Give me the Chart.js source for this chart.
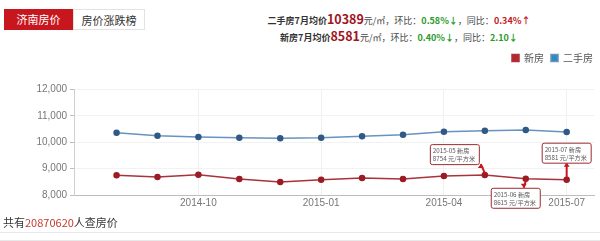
<!DOCTYPE html>
<html>
<head>
<meta charset="utf-8">
<script src="https://cdn.jsdelivr.net/npm/chart.js@4.4.1/dist/chart.umd.min.js"></script>
<style>
  body { margin: 0; width: 600px; height: 241px; position: relative; overflow: hidden; background: #fff;
         font-family: "Noto Sans CJK SC", "Liberation Sans", sans-serif; }
  .tabs { position: absolute; left: 4px; top: 9px; height: 21px; display: flex; }
  .tab { height: 21px; line-height: 21px; font-size: 11px; text-align: center; box-sizing: border-box; }
  .tab.on { background: #c8161e; color: #fff; width: 69px; }
  .tab.off { background: #fff; color: #333; border: 1px solid #e2e2e2; width: 72px; }
  .summary { position: absolute; left: 249px; width: 300px; text-align: center; font-size: 9px; line-height: 18px;
             color: #444; white-space: nowrap; }
  .summary .lbl { font-weight: bold; color: #333; }
  .summary .big { font-size: 12.5px; font-weight: bold; color: #a01423; }
  .summary .dn { color: #2b9b2b; font-weight: bold; }
  .summary .up { color: #c8161e; font-weight: bold; }
  #line1 { top: 10px; }
  #line2 { top: 27px; }
  .chart-box { position: absolute; left: 0; top: 40px; width: 600px; height: 176px; }
  .footer { position: absolute; left: 3px; top: 214px; font-size: 11px; color: #333; }
  .footer span { color: #c0392b; }
  .rule1 { position: absolute; left: 0; right: 0; top: 232px; height: 1px; background: #e8e8e8; }
  .rule2 { position: absolute; left: 0; right: 0; top: 240px; height: 1px; background: #e8e8e8; }
</style>
</head>
<body>
<div class="tabs"><div class="tab on">济南房价</div><div class="tab off">房价涨跌榜</div></div>
<div class="summary" id="line1"><span class="lbl">二手房7月均价</span><span class="big">10389</span>元/㎡，环比：<span class="dn">0.58%↓</span>，同比：<span class="up">0.34%↑</span></div>
<div class="summary" id="line2"><span class="lbl">新房7月均价</span><span class="big">8581</span>元/㎡，环比：<span class="dn">0.40%↓</span>，同比：<span class="dn">2.10↓</span></div>
<div class="chart-box"><canvas id="price-chart"></canvas></div>
<div class="footer">共有<span>20870620</span>人查房价</div>
<div class="rule1"></div><div class="rule2"></div>
<script>
// Monthly average prices (元/平方米)
var months = ['2014-08', '2014-09', '2014-10', '2014-11', '2014-12', '2015-01',
              '2015-02', '2015-03', '2015-04', '2015-05', '2015-06', '2015-07'];
var newHouse = [8750, 8680, 8770, 8610, 8490, 8580, 8640, 8610, 8720, 8754, 8615, 8581];
var secondHand = [10360, 10250, 10200, 10175, 10150, 10170, 10225, 10285, 10400, 10440, 10460, 10389];
var seriesNames = ['新房', '二手房'];
var xTickMonths = ['2014-10', '2015-01', '2015-04', '2015-07'];
var yTicks = [8000, 9000, 10000, 11000, 12000];
var calloutMonths = ['2015-05', '2015-06', '2015-07'];

// callout box placement relative to its point (style only)
var calloutStyle = [
  { dx: -55, dy: -31, ax: -4 },
  { dx: -35, dy: 9, ax: -2 },
  { dx: -25, dy: -37, ax: 0 }
];

function toPoints(values) {
  return values.map(function(v, i) { return { x: i, y: v }; });
}

var calloutPlugin = {
  id: 'callouts',
  afterDatasetsDraw: function(chart) {
    var ctx = chart.ctx;
    var meta = chart.getDatasetMeta(0);
    ctx.save();
    calloutMonths.forEach(function(m, k) {
      var i = months.indexOf(m);
      var pt = meta.data[i];
      var st = calloutStyle[k];
      var w = 49, h = 20;
      var bx = pt.x + st.dx, by = pt.y + st.dy;
      // arrow between point and box
      var ex = pt.x + st.ax;
      var ey = st.dy < 0 ? by + h : by;
      ctx.strokeStyle = '#c8161e';
      ctx.fillStyle = '#c8161e';
      ctx.lineWidth = 2;
      ctx.beginPath();
      ctx.moveTo(pt.x, pt.y + (st.dy < 0 ? -2 : 2));
      ctx.lineTo(ex, ey);
      ctx.stroke();
      var dir = st.dy < 0 ? 1 : -1;
      ctx.beginPath();
      ctx.moveTo(ex, ey);
      ctx.lineTo(ex - 3, ey + dir * 4);
      ctx.lineTo(ex + 3, ey + dir * 4);
      ctx.closePath();
      ctx.fill();
      // box
      ctx.fillStyle = '#fff';
      ctx.strokeStyle = '#9b2c30';
      ctx.lineWidth = 1;
      ctx.beginPath();
      ctx.roundRect(bx + 0.5, by + 0.5, w, h, 2);
      ctx.fill();
      ctx.stroke();
      ctx.fillStyle = '#555';
      ctx.font = '6.2px "Noto Sans CJK SC", sans-serif';
      ctx.textBaseline = 'middle';
      ctx.textAlign = 'left';
      ctx.fillText(m + ' ' + seriesNames[0], bx + 3, by + 6.5);
      ctx.fillText(newHouse[i] + ' 元/平方米', bx + 3, by + 15);
    });
    ctx.restore();
  }
};

new Chart(document.getElementById('price-chart'), {
  type: 'line',
  data: {
    datasets: [
      {
        label: seriesNames[0],
        data: toPoints(newHouse),
        borderColor: '#a8333a',
        backgroundColor: '#b8272d',
        pointBackgroundColor: '#9b1c24',
        pointBorderColor: '#9b1c24',
        borderWidth: 1.5,
        pointRadius: 2.5,
        tension: 0
      },
      {
        label: seriesNames[1],
        data: toPoints(secondHand),
        borderColor: '#6892bf',
        backgroundColor: '#2d8bbd',
        pointBackgroundColor: '#2f5a86',
        pointBorderColor: '#2f5a86',
        borderWidth: 1.5,
        pointRadius: 2.5,
        tension: 0
      }
    ]
  },
  options: {
    responsive: true,
    maintainAspectRatio: false,
    animation: false,
    layout: { padding: { top: 6, right: 0, left: 0, bottom: 0 } },
    plugins: {
      legend: {
        position: 'top',
        align: 'end',
        weight: 3000,
        labels: {
          boxWidth: 7,
          boxHeight: 7,
          padding: 7,
          color: '#555',
          font: { family: '"Noto Sans CJK SC", sans-serif', size: 10 }
        }
      },
      title: {
        display: true,
        text: ' ',
        font: { size: 10 },
        padding: { top: 0, bottom: 4.5 }
      },
      tooltip: { enabled: false }
    },
    scales: {
      x: {
        type: 'linear',
        min: -1.04,
        max: 11.68,
        afterBuildTicks: function(scale) {
          scale.ticks = xTickMonths.map(function(m) { return { value: months.indexOf(m) }; });
        },
        afterFit: function(scale) { scale.height = 21; },
        ticks: {
          autoSkip: false,
          maxRotation: 0,
          padding: 2,
          color: '#777',
          font: { family: '"Liberation Sans", sans-serif', size: 10 },
          callback: function(v) { return months[v]; }
        },
        grid: { color: '#f0f0f0', drawTicks: false },
        border: { color: '#bdbdbd' }
      },
      y: {
        min: 8000,
        max: 12000,
        afterBuildTicks: function(scale) {
          scale.ticks = yTicks.map(function(v) { return { value: v }; });
        },
        afterFit: function(scale) { scale.width = 74; },
        ticks: {
          padding: 3,
          color: '#777',
          font: { family: '"Liberation Sans", sans-serif', size: 10 },
          callback: function(v) { return v.toLocaleString('en-US'); }
        },
        grid: { color: '#f2f2f2', tickLength: 4, tickColor: '#bdbdbd' },
        border: { color: '#cfcfcf' }
      }
    }
  },
  plugins: [calloutPlugin]
});
</script>
</body>
</html>
